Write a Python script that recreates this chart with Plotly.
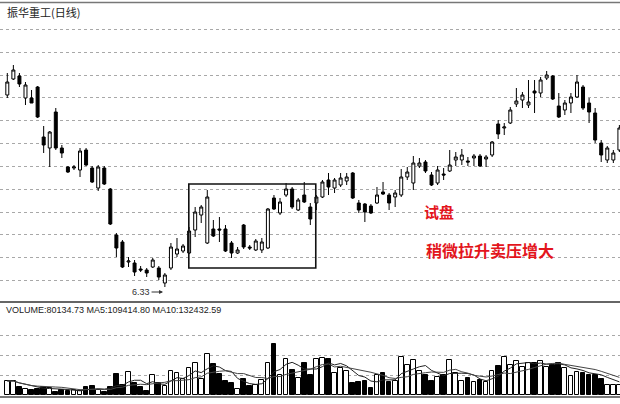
import plotly.graph_objects as go
import pandas as pd

# ---- data ----
open_ = [8.25, 8.41, 8.44, 8.22, 8.22, 8.33, 7.83, 7.72, 8.08, 7.72,
         7.53, 7.52, 7.50, 7.70, 7.52, 7.32, 7.52, 7.31, 6.85, 6.78,
         6.58, 6.57, 6.51, 6.50, 6.53, 6.52, 6.37, 6.52, 6.66, 6.69,
         6.67, 6.90, 7.05, 6.77, 6.91, 6.91, 6.91, 6.77, 6.67, 6.95,
         6.73, 6.70, 6.70, 6.72, 7.22, 7.07, 7.25, 7.31, 7.10, 7.25,
         7.13, 7.17, 7.23, 7.40, 7.32, 7.35, 7.39, 7.47, 7.17, 7.16,
         7.14, 7.17, 7.28, 7.25, 7.23, 7.25, 7.43, 7.37, 7.54, 7.58,
         7.45, 7.37, 7.46, 7.49, 7.60, 7.60, 7.59, 7.62, 7.64, 7.61,
         7.65, 7.96, 7.92, 7.97, 8.16, 8.20, 8.15, 8.29, 8.27, 8.42,
         8.44, 8.14, 8.10, 8.17, 8.23, 8.33, 8.17, 8.07, 7.77, 7.60,
         7.60, 7.70]
high = [8.47, 8.55, 8.47, 8.38, 8.30, 8.34, 7.94, 7.89, 8.12, 7.75,
        7.54, 7.55, 7.72, 7.72, 7.54, 7.55, 7.54, 7.32, 6.87, 6.80,
        6.63, 6.60, 6.54, 6.52, 6.62, 6.54, 6.47, 6.77, 6.82, 6.76,
        6.93, 7.13, 7.15, 7.30, 7.00, 7.03, 6.95, 6.79, 6.73, 6.96,
        6.75, 6.81, 6.82, 7.12, 7.25, 7.22, 7.37, 7.33, 7.22, 7.38,
        7.17, 7.25, 7.40, 7.47, 7.42, 7.47, 7.47, 7.48, 7.20, 7.17,
        7.16, 7.33, 7.38, 7.27, 7.30, 7.51, 7.53, 7.64, 7.62, 7.60,
        7.48, 7.54, 7.52, 7.70, 7.68, 7.71, 7.63, 7.66, 7.66, 7.65,
        7.79, 8.00, 7.97, 8.13, 8.32, 8.28, 8.40, 8.40, 8.43, 8.49,
        8.45, 8.27, 8.20, 8.27, 8.45, 8.35, 8.22, 8.12, 7.80, 7.74,
        7.70, 7.95]
low = [8.22, 8.40, 8.33, 8.15, 8.17, 8.02, 7.67, 7.53, 7.70, 7.62,
       7.47, 7.50, 7.43, 7.54, 7.37, 7.29, 7.35, 6.95, 6.63, 6.52,
       6.53, 6.44, 6.48, 6.43, 6.52, 6.40, 6.33, 6.50, 6.63, 6.67,
       6.66, 6.83, 6.97, 6.76, 6.83, 6.78, 6.68, 6.62, 6.66, 6.71,
       6.70, 6.69, 6.67, 6.71, 7.10, 7.05, 7.23, 7.11, 7.09, 7.17,
       6.95, 7.10, 7.22, 7.25, 7.27, 7.33, 7.35, 7.21, 7.07, 6.98,
       7.06, 7.16, 7.25, 7.10, 7.13, 7.23, 7.40, 7.30, 7.52, 7.47,
       7.34, 7.35, 7.40, 7.48, 7.54, 7.55, 7.54, 7.54, 7.53, 7.53,
       7.63, 7.81, 7.85, 7.96, 8.13, 8.12, 8.12, 8.07, 8.23, 8.40,
       8.20, 8.02, 8.05, 8.07, 8.22, 8.10, 7.97, 7.77, 7.58, 7.57,
       7.57, 7.68]
close = [8.38, 8.50, 8.36, 8.35, 8.17, 8.03, 7.75, 7.88, 7.72, 7.67,
         7.48, 7.53, 7.69, 7.55, 7.38, 7.53, 7.36, 6.96, 6.72, 6.53,
         6.59, 6.48, 6.50, 6.47, 6.60, 6.43, 6.45, 6.73, 6.71, 6.74,
         6.89, 7.08, 7.13, 7.23, 6.84, 6.90, 6.69, 6.67, 6.70, 6.73,
         6.72, 6.79, 6.78, 7.11, 7.11, 7.18, 7.31, 7.13, 7.20, 7.18,
         7.01, 7.23, 7.38, 7.33, 7.40, 7.42, 7.43, 7.22, 7.10, 7.08,
         7.07, 7.25, 7.26, 7.17, 7.27, 7.43, 7.48, 7.57, 7.57, 7.49,
         7.35, 7.50, 7.45, 7.55, 7.63, 7.65, 7.58, 7.64, 7.54, 7.63,
         7.78, 7.86, 7.93, 8.10, 8.19, 8.25, 8.18, 8.27, 8.40, 8.45,
         8.21, 8.03, 8.17, 8.23, 8.38, 8.12, 8.08, 7.80, 7.65, 7.72,
         7.67, 7.92]
volume = [116200, 116200, 68900, 49800, 41500, 49800, 68900, 58100, 24900, 41500,
          33200, 41500, 33200, 66400, 77200, 41500, 27400, 68900, 174300, 83000,
          188400, 97100, 68900, 33200, 166000, 97100, 77200, 199200, 180100, 132800,
          221600, 263100, 132800, 337800, 254800, 171800, 116200, 97100, 49800, 132800,
          77200, 83000, 124500, 263100, 420800, 166000, 298800, 207500, 143600, 263100,
          166000, 298800, 304600, 298800, 180100, 226600, 199200, 97100, 105400, 116200,
          60600, 166000, 180100, 105400, 116200, 317900, 249000, 290500, 199200, 166000,
          116200, 151900, 166000, 290500, 180100, 116200, 138600, 105400, 124500, 105400,
          199200, 243200, 317900, 249000, 282200, 234900, 263100, 263100, 282200, 234900,
          249000, 263100, 220000, 160000, 190000, 185000, 165000, 166000, 132800, 83000,
          83000, 80134.73]

title_text = "振华重工(日线)"
volume_text = "VOLUME:80134.73 MA5:109414.80 MA10:132432.59"
low_label = "6.33"
note1 = "试盘"
note2 = "稍微拉升卖压增大"

# ---- derived ----
idx = list(range(len(close)))
vol_s = pd.Series(volume)
ma5 = vol_s.rolling(5, min_periods=1).mean()
ma10 = vol_s.rolling(10, min_periods=1).mean()
vol_colors = ["white" if c >= o else "black" for o, c in zip(open_, close)]

W, H = 620, 404
x_range = [-1.205, 101.1]
price_dom = [1 - 302 / H, 1]
vol_dom = [1 - 396 / H, 1 - 302 / H]
price_grid = [8.907 - 0.2285 * k for k in range(12)]
vol_grid = [166000, 332000, 498000]

fig = go.Figure()
fig.add_trace(go.Candlestick(
    x=idx, open=open_, high=high, low=low, close=close,
    increasing=dict(line=dict(color="black", width=1), fillcolor="white"),
    decreasing=dict(line=dict(color="black", width=1), fillcolor="black"),
    whiskerwidth=0, xaxis="x", yaxis="y", showlegend=False, hoverinfo="skip"))

fig.add_trace(go.Bar(
    x=idx, y=volume, width=0.78,
    marker=dict(color=vol_colors, line=dict(color="black", width=1)),
    xaxis="x2", yaxis="y2", showlegend=False))
fig.add_trace(go.Scatter(x=idx, y=ma5, mode="lines",
                         line=dict(color="#222", width=1),
                         xaxis="x2", yaxis="y2", showlegend=False))
fig.add_trace(go.Scatter(x=idx, y=ma10, mode="lines",
                         line=dict(color="#444", width=1),
                         xaxis="x2", yaxis="y2", showlegend=False))

axis_common = dict(showticklabels=False, zeroline=False, showline=False, ticks="")
fig.update_layout(
    width=W, height=H, margin=dict(l=0, r=0, t=0, b=0),
    paper_bgcolor="white", plot_bgcolor="white", bargap=0,
    xaxis=dict(domain=[0, 1], range=x_range, showgrid=False, anchor="y",
               rangeslider=dict(visible=False), **axis_common),
    yaxis=dict(domain=price_dom, range=[6.18, 9.20], tickvals=price_grid,
               showgrid=True, gridcolor="#a8a8a8", griddash="dot", gridwidth=1,
               anchor="x", **axis_common),
    xaxis2=dict(domain=[0, 1], range=x_range, showgrid=False, anchor="y2",
                **axis_common),
    yaxis2=dict(domain=vol_dom, range=[-8300, 771900], tickvals=vol_grid,
                showgrid=True, gridcolor="#a8a8a8", griddash="dot", gridwidth=1,
                anchor="x2", **axis_common),
    font=dict(family="Liberation Sans, Arial, sans-serif"),
)

# frame lines
fig.add_shape(type="line", xref="paper", yref="paper", x0=0, x1=1,
              y0=1 - 2.5 / H, y1=1 - 2.5 / H, line=dict(color="#777", width=1.5))
fig.add_shape(type="line", xref="paper", yref="paper", x0=0, x1=1,
              y0=1 - 302 / H, y1=1 - 302 / H, line=dict(color="#666", width=2))
fig.add_shape(type="line", xref="paper", yref="paper", x0=0, x1=1,
              y0=1 - 397 / H, y1=1 - 397 / H, line=dict(color="#777", width=2))
# highlight box
fig.add_shape(type="rect", xref="x", yref="y", x0=29.95, x1=50.9, y0=6.52, y1=7.36,
              line=dict(color="#111", width=1.6), fillcolor="rgba(0,0,0,0)")

fig.add_annotation(xref="paper", yref="paper", x=5 / W, y=1 - 12 / H,
                   xanchor="left", yanchor="middle", showarrow=False,
                   text=title_text,
                   font=dict(family="Noto Sans CJK SC", size=11, color="#222"))
fig.add_annotation(xref="paper", yref="paper", x=4 / W, y=1 - 309.5 / H,
                   xanchor="left", yanchor="middle", showarrow=False,
                   text=volume_text,
                   font=dict(family="Liberation Sans", size=9, color="#222"))
fig.add_annotation(xref="x", yref="y", x=25.7, y=6.28, ax=-22, ay=0,
                   showarrow=True, arrowhead=2, arrowsize=0.8, arrowwidth=1,
                   arrowcolor="#333", text=low_label,
                   font=dict(family="Liberation Sans", size=9, color="#333"))
fig.add_annotation(xref="paper", yref="paper", x=439 / W, y=1 - 211 / H,
                   xanchor="center", yanchor="middle", showarrow=False,
                   text="<b>" + note1 + "</b>",
                   font=dict(family="Noto Sans CJK SC", size=15, color="#e3151c"))
fig.add_annotation(xref="paper", yref="paper", x=490 / W, y=1 - 250 / H,
                   xanchor="center", yanchor="middle", showarrow=False,
                   text="<b>" + note2 + "</b>",
                   font=dict(family="Noto Sans CJK SC", size=16, color="#e3151c"))

fig.write_html("out.html", config={"displayModeBar": False},
               post_script="document.body.style.margin='0';"
                           "document.body.style.overflow='hidden';")
